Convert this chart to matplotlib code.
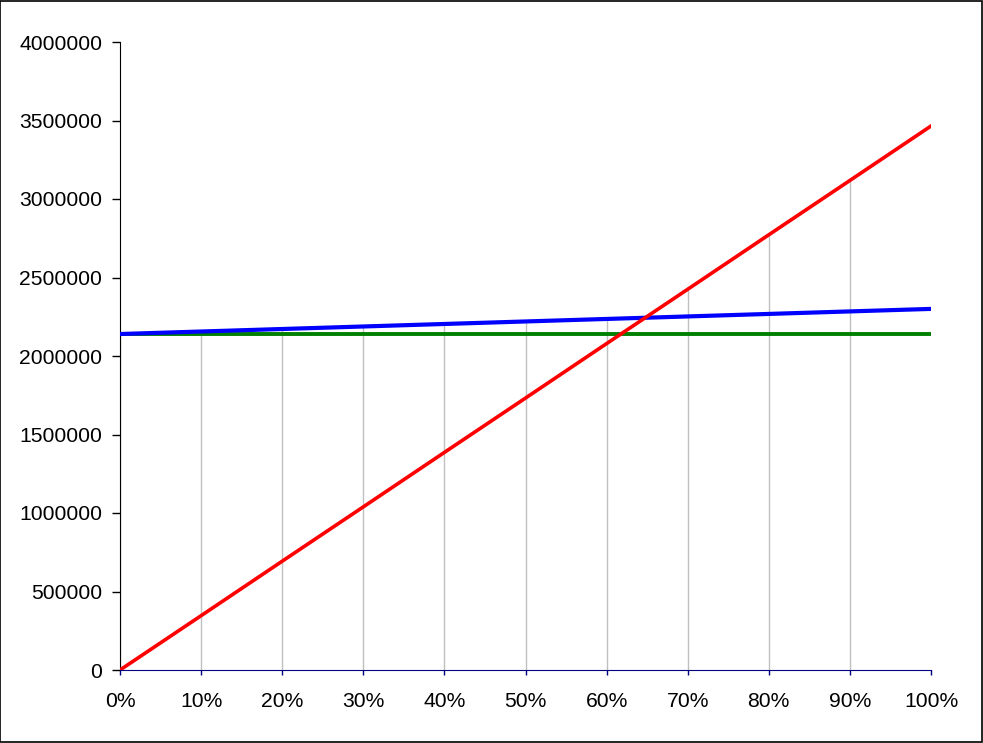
import matplotlib
matplotlib.use('Agg')
import matplotlib.pyplot as plt
import numpy as np

plt.rcParams['font.family'] = ['Liberation Sans', 'DejaVu Sans']

pct = [0, 10, 20, 30, 40, 50, 60, 70, 80, 90, 100]
red = [0, 346000, 693000, 1039000, 1386000, 1732000, 2079000, 2425000, 2772000, 3118000, 3465000]
blue = [2140000, 2156000, 2172000, 2188000, 2204000, 2220000, 2236000, 2252000, 2268000, 2284000, 2300000]
green = [2140000] * 11
yticks = [0, 500000, 1000000, 1500000, 2000000, 2500000, 3000000, 3500000, 4000000]

fig = plt.figure(figsize=(9.83, 7.43), dpi=100)
ax = fig.add_axes([120/983, 73/743, 811/983, 628/743])

# drop lines up to the highest series at each point
top = np.maximum(np.maximum(red, blue), green)
ax.vlines(pct[:-1], 0, top[:-1], color='#c0c0c0', lw=1, zorder=1)

ax.plot(pct, green, color='#008000', lw=2.8, zorder=3)
ax.plot(pct, blue, color='#0000ff', lw=3.0, zorder=4)
ax.plot(pct, red, color='#ff0000', lw=2.6, zorder=5)

ax.set_xlim(0, 100)
ax.set_ylim(0, 4000000)
ax.set_xticks(pct)
ax.set_xticklabels([f'{p}%' for p in pct])
ax.set_yticks(yticks)
ax.set_yticklabels([str(v) for v in yticks])
ax.tick_params(axis='y', length=5.8, width=1, color='black', labelsize=15.2, pad=7)
ax.tick_params(axis='x', length=3.6, width=1, color='#000080', labelsize=15.2, pad=12)

for s in ['top', 'right']:
    ax.spines[s].set_visible(False)
ax.spines['left'].set_color('black')
ax.spines['bottom'].set_color('#000080')

fig.patches.append(plt.Rectangle((0.0005, 0.0007), 0.998, 0.998, transform=fig.transFigure,
                                 fill=False, edgecolor='black', lw=1.2))

fig.savefig('out.png', dpi=100)
